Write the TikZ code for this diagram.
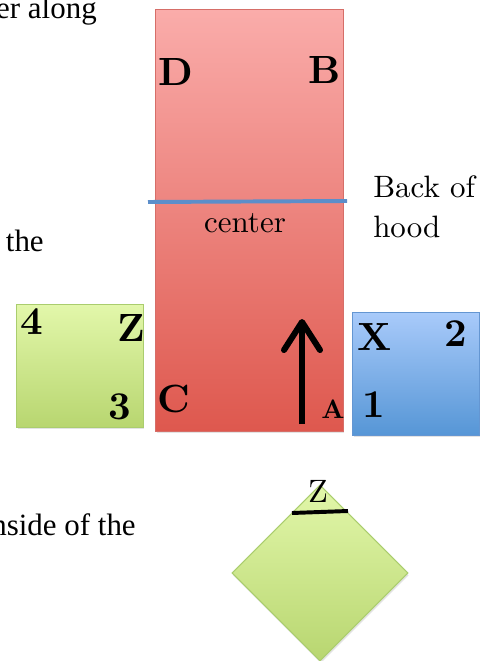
\documentclass[tikz,border=0pt]{standalone}
\usepackage{fontspec}
\newfontfamily\timesfont{Liberation Serif}
\newfontfamily\labelfont{lmroman10-regular.otf}[BoldFont=lmroman10-bold.otf]
\usetikzlibrary{shapes.geometric, arrows.meta, shadows}

\definecolor{hoodtop}{RGB}{250,172,170}
\definecolor{hoodbot}{RGB}{222,88,78}
\definecolor{hoodline}{RGB}{214,110,104}
\definecolor{leaftop}{RGB}{226,247,170}
\definecolor{leafbot}{RGB}{184,214,112}
\definecolor{leafline}{RGB}{170,205,110}
\definecolor{skytop}{RGB}{168,202,250}
\definecolor{skybot}{RGB}{86,150,214}
\definecolor{skyline}{RGB}{100,150,210}
\definecolor{seam}{RGB}{92,142,202}

\begin{document}
\begin{tikzpicture}[x=0.025cm, y=-0.025cm,
    panel/.style={draw, line width=0.7pt, inner sep=0pt,
        drop shadow={opacity=0.22, shadow xshift=0.6pt, shadow yshift=-1.6pt}},
    hood/.style={panel, draw=hoodline, top color=hoodtop, bottom color=hoodbot,
        minimum width=4.675cm, minimum height=10.525cm},
    leaf/.style={panel, draw=leafline, top color=leaftop, bottom color=leafbot,
        minimum width=3.15cm, minimum height=3.05cm},
    sky/.style={panel, draw=skyline, top color=skytop, bottom color=skybot,
        minimum width=3.15cm, minimum height=3.05cm},
    corner/.style={font=\labelfont\fontsize{28}{28}\selectfont\bfseries, inner sep=0pt},
    plain/.style={font=\labelfont\fontsize{22}{28.5}\selectfont, inner sep=0pt, align=left},
    note/.style={font=\timesfont\fontsize{22}{26}\selectfont, anchor=base east, inner sep=0pt},
    lift/.style={line width=4.3pt, -{Straight Barb[length=0.7cm, width=0.9cm, round]}},
    seamline/.style={draw=seam, line width=2.8pt},
    fold/.style={draw=black, line width=2.8pt}
]
    \useasboundingbox (0,0) rectangle (486,661);

    \node[note] (t1) at (97,19) {er along};
    \node[note] (t2) at (44,252) {the};
    \node[note] (t3) at (136,535) {nside of the};

    \node[hood] (hd) at (249.5,220.5) {};
    \node[leaf] (lf) at (80,366) {};
    \node[sky] (sk) at (416,374) {};
    \node[leaf, diamond, aspect=1, minimum width=4.4cm, minimum height=4.4cm] (dm) at (320,573) {};

    \coordinate (cl) at (148,202);
    \coordinate (cr) at (347,201);
    \draw[seamline] (cl) -- (cr);

    \coordinate (tail) at (302,424);
    \coordinate (tip) at (302,319);
    \draw[lift] (tail) -- (tip);

    \coordinate (fl) at (292,513);
    \coordinate (fr) at (348,511);
    \draw[fold] (fl) -- (fr);

    \node[corner] (d) at (175.5,72) {D};
    \node[corner] (b) at (325,70) {B};
    \node[corner] (c) at (174,399) {C};
    \node[corner, font=\labelfont\fontsize{19}{19}\selectfont\bfseries] (a) at (333,409) {A};
    \node[corner] (n4) at (32,322) {4};
    \node[corner] (z) at (131,328) {Z};
    \node[corner] (n3) at (120,407) {3};
    \node[corner] (x) at (375,337) {X};
    \node[corner] (n2) at (456,334) {2};
    \node[corner] (n1) at (374,405) {1};

    \node[plain] (ctr) at (245,223) {center};
    \node[plain, anchor=base west] (back) at (373,238) {Back of\\hood};
    \node[plain, font=\labelfont\fontsize{23}{23}\selectfont] (zt) at (318,491) {Z};
\end{tikzpicture}
\end{document}
